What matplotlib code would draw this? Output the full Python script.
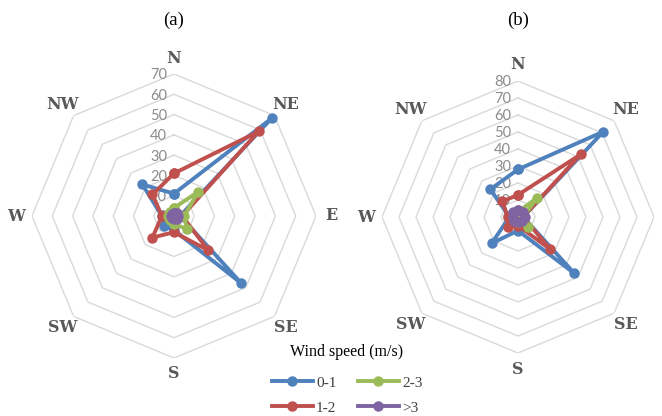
import numpy as np
import matplotlib
matplotlib.use("Agg")
import matplotlib.pyplot as plt

# wind directions (clockwise from north)
directions = ['N', 'NE', 'E', 'SE', 'S', 'SW', 'W', 'NW']
speed_classes = ['0-1', '1-2', '2-3', '>3']
colors = ['#4F81BD', '#C0504D', '#9BBB59', '#8064A2']

# panel (a) frequencies
a_01 = [11, 68, 3, 47, 7, 7, 6, 22]
a_12 = [21, 59, 4, 24, 8, 15, 6, 15]
a_23 = [4, 17, 5, 9, 4, 3, 3, 3]
a_3p = [1.5, 2, 2, 2, 1.5, 1.5, 1.5, 1.5]
a_ticks = [0, 10, 20, 30, 40, 50, 60, 70]

# panel (b) frequencies
b_01 = [28, 71, 3, 47, 8, 22, 5, 23]
b_12 = [13, 52, 3, 27, 5, 8, 6, 13]
b_23 = [3, 16, 3, 8, 3, 2, 2, 2]
b_3p = [4, 4, 4, 3, 3, 3, 3, 4]
b_ticks = [0, 10, 20, 30, 40, 50, 60, 70, 80]

W, H = 662, 416
fig = plt.figure(figsize=(W / 100, H / 100), dpi=100)

angles = np.deg2rad(np.arange(8) * 45.0)
closed = np.append(angles, angles[0])


def radar(rect, series, ticks, title, lab_r):
    ax = fig.add_axes(rect, projection='polar')
    ax.set_theta_zero_location('N')
    ax.set_theta_direction(-1)
    ax.set_ylim(0, ticks[-1])
    ax.grid(False)
    ax.set_xticks([])
    ax.set_yticks([])
    ax.spines['polar'].set_visible(False)
    ax.patch.set_alpha(0)

    # octagon grid
    for t in ticks[1:]:
        ax.plot(closed, [t] * 9, color='#d9d9d9', lw=1.0, zorder=1)
    for t in ticks:
        ax.annotate(str(t), (0, t), xytext=(-5, -1), textcoords='offset points',
                    ha='right', va='center', fontsize=10.5, color='#8c8c8c',
                    family='Lato', zorder=2)

    for vals, c, name in zip(series, colors, speed_classes):
        v = np.append(vals, vals[0])
        ax.plot(closed, v, color=c, lw=2.8, marker='o', ms=6.5,
                label=name, zorder=3, clip_on=False)

    for ang, d in zip(angles, directions):
        ax.text(ang, ticks[-1] * lab_r, d, ha='center', va='center',
                fontsize=11.5, family='DejaVu Serif', fontweight='bold',
                color='#595959', clip_on=False)
    fig.text((rect[0] + rect[2] / 2), 1 - 20 / H, title, ha='center',
             va='center', fontsize=13.5, family='Liberation Serif')
    return ax


ax_a = radar([32 / W, 58 / H, 284 / W, 284 / H],
             [a_01, a_12, a_23, a_3p], a_ticks, '(a)', 1.11)
ax_b = radar([382 / W, 63 / H, 272 / W, 272 / H],
             [b_01, b_12, b_23, b_3p], b_ticks, '(b)', 1.12)

fig.text(347 / W, 1 - 352 / H, 'Wind speed (m/s)', ha='center', va='center',
         fontsize=11.5, family='Liberation Serif')
handles, labels = ax_a.get_legend_handles_labels()
leg = fig.legend(handles, labels, loc='upper center',
                 bbox_to_anchor=(347 / W, 1 - 370 / H), ncol=2,
                 frameon=False,
                 prop={'family': 'Liberation Serif', 'size': 11},
                 handlelength=2.7, columnspacing=1.4, handletextpad=0.2,
                 labelspacing=0.72, borderaxespad=0.0)
for t in leg.get_texts():
    t.set_color('#404040')

fig.savefig('out.png', dpi=100)
